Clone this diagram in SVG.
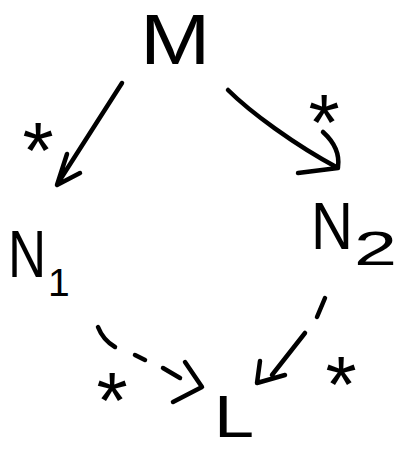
<svg xmlns="http://www.w3.org/2000/svg" width="397" height="450" viewBox="0 0 397 450">
<style>
.lbl{font-family:"Liberation Sans",Arial,sans-serif;fill:#000}
.star{font-family:"Liberation Sans",Arial,sans-serif;fill:#000;font-size:80px;text-anchor:middle}
.ln{fill:none;stroke:#000;stroke-width:4.5;stroke-linecap:round;stroke-linejoin:round}
</style>
<rect width="397" height="450" fill="#fff"/>
<g id="M"><text class="lbl" transform="translate(140,64) scale(1.19,1)" font-size="71">M</text></g>
<g id="N1"><text class="lbl" transform="translate(8,277) scale(0.8,1)" font-size="66">N</text><text class="lbl" x="48" y="296" font-size="39">1</text></g>
<g id="N2"><text class="lbl" transform="translate(311,249) scale(0.88,1)" font-size="66">N</text><text class="lbl" transform="translate(354,265) scale(1.58,1)" font-size="49">2</text></g>
<g id="L"><text class="lbl" transform="translate(214,437) scale(1.2,1)" font-size="60">L</text></g>
<g id="connectors">
<path class="ln" d="M122,83 L58,183 M67,154 L57,185 L80,173"/>
<path class="ln" d="M228,90 C250,112 295,145 338,168 M323,132 C334,142 340,153 338,167 M298,173 L338,168"/>
<path class="ln" d="M98,327 Q103,340 115,347 M135,355 L145,360 M163,368 L180,378 M185,362 L202,387 L173,402"/>
<path class="ln" d="M325,298 L317,317 M305,333 L272,375 M260,361 L257,383 L285,375"/>
</g>
<g id="labels">
<text class="star" x="38" y="178">*</text>
<text class="star" x="324" y="150">*</text>
<text class="star" x="112" y="428" font-size="90">*</text>
<text class="star" x="341" y="412" font-size="90">*</text>
</g>
</svg>
